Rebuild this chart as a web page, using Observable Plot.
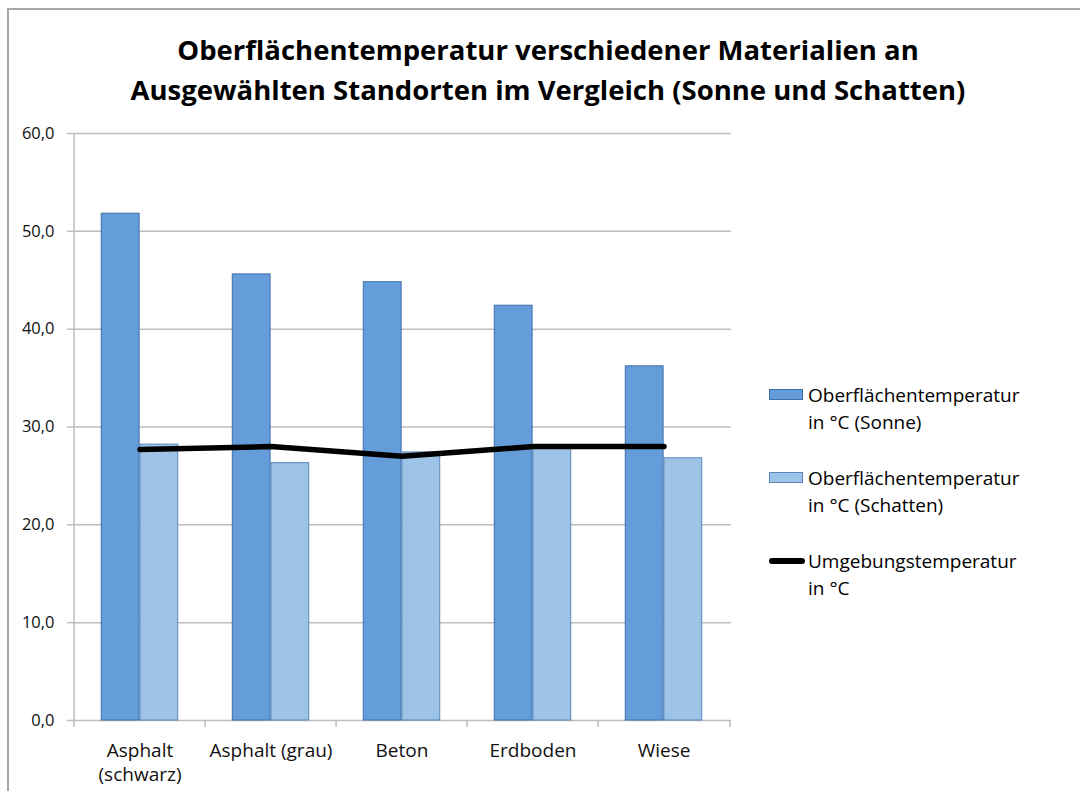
<!DOCTYPE html>
<html>
<head>
<meta charset="utf-8">
<script src="https://cdn.jsdelivr.net/npm/d3@7"></script>
<script src="https://cdn.jsdelivr.net/npm/@observablehq/plot@0.6"></script>
<style>
  body { margin: 0; background: #fff; }
  #chart { position: relative; width: 1080px; height: 791px; overflow: hidden; font-family: "Open Sans", sans-serif; color: #000; }
  #frame { position: absolute; left: 7px; top: 8px; width: 1200px; height: 900px; border-top: 2px solid #a8a8a8; border-left: 2px solid #a8a8a8; }
  #title { position: absolute; left: 0; width: 1096px; top: 30px; text-align: center; font-weight: 700; font-size: 27.5px; line-height: 40px; }
  #plot { position: absolute; left: 0; top: 0; }
  .entry { position: absolute; left: 769px; font-size: 19px; line-height: 27px; }
  .entry .sw { position: absolute; left: 0; top: 6px; width: 34px; height: 11px; box-sizing: border-box; }
  .entry .ln { position: absolute; left: 0; top: 9px; width: 36px; height: 6px; border-radius: 3px; background: #000; }
  .entry .tx { position: absolute; left: 39px; top: -1px; white-space: nowrap; }
</style>
</head>
<body>
<div id="chart">
  <div id="frame"></div>
  <div id="title">Oberflächentemperatur verschiedener Materialien an<br>Ausgewählten Standorten im Vergleich (Sonne und Schatten)</div>
  <div id="plot"></div>
  <div id="legend"></div>
</div>
<script>
// Materials measured
const categories = ["Asphalt (schwarz)", "Asphalt (grau)", "Beton", "Erdboden", "Wiese"];
// Surface temperature in the sun (°C)
const sunTemps = [51.8, 45.6, 44.8, 42.4, 36.2];
// Surface temperature in the shade (°C)
const shadeTemps = [28.2, 26.3, 27.4, 28.0, 26.8];
// Ambient air temperature (°C)
const ambientTemps = [27.7, 28.0, 27.0, 28.0, 28.0];
// Value axis ticks
const yTicks = [0, 10, 20, 30, 40, 50, 60];
// Display names on the category axis
const categoryLabels = ["Asphalt\n(schwarz)", "Asphalt (grau)", "Beton", "Erdboden", "Wiese"];

const seriesNames = [
  "Oberflächentemperatur\nin °C (Sonne)",
  "Oberflächentemperatur\nin °C (Schatten)",
  "Umgebungstemperatur\nin °C"
];
const colors = {sun: "#659ddb", sunStroke: "#3d6ea7", shade: "#9dc3e6", shadeStroke: "#5a86ba", grid: "#bdbdbd"};

const rows = categories.map((c, i) => ({category: c, sun: sunTemps[i], shade: shadeTemps[i], ambient: ambientTemps[i]}));

const W = 1080, H = 791;
const margin = {left: 72, right: 349, top: 133, bottom: 71};
const bw = (W - margin.left - margin.right) / categories.length; // band width
const plotH = H - margin.top - margin.bottom;
const outer = bw * 0.207;      // space between band edge and bar pair
const half = bw / 2;

const fmt = d => d.toFixed(1).replace(".", ",");
const labelOf = new Map(categories.map((c, i) => [c, categoryLabels[i]]));

const chart = Plot.plot({
  width: W,
  height: H,
  marginLeft: margin.left,
  marginRight: margin.right,
  marginTop: margin.top,
  marginBottom: margin.bottom,
  style: {fontFamily: "Open Sans, sans-serif", background: "transparent", overflow: "visible", color: "#111"},
  x: {type: "band", domain: categories, padding: 0},
  y: {domain: [0, 60]},
  marks: [
    // horizontal gridlines
    Plot.ruleY(yTicks, {stroke: colors.grid, strokeWidth: 1.5}),
    // vertical value axis line at the left band edge
    Plot.ruleX([categories[0]], {dx: -half, stroke: colors.grid, strokeWidth: 1.5}),
    // category separators below the baseline
    Plot.ruleX(categories, {dx: -half, insetTop: plotH, insetBottom: -7, stroke: colors.grid, strokeWidth: 1.5}),
    Plot.ruleX([categories[categories.length - 1]], {dx: half, insetTop: plotH, insetBottom: -7, stroke: colors.grid, strokeWidth: 1.5}),
    // bars: sun on the left half, shade on the right half of each band
    Plot.barY(rows, {x: "category", y: "sun", fill: colors.sun, stroke: colors.sunStroke, strokeWidth: 1, insetLeft: outer, insetRight: half}),
    Plot.barY(rows, {x: "category", y: "shade", fill: colors.shade, stroke: colors.shadeStroke, strokeWidth: 1, insetLeft: half, insetRight: outer}),
    // ambient temperature line through band centres
    Plot.lineY(rows, {x: "category", y: "ambient", stroke: "#000", strokeWidth: 5.5, strokeLinecap: "round", strokeLinejoin: "round"}),
    Plot.axisY({ticks: yTicks, tickFormat: fmt, tickSize: 5, tickPadding: 13, fontSize: 16.5, stroke: colors.grid, strokeWidth: 1.5, label: null}),
    Plot.axisX({tickSize: 0, tickPadding: 20, fontSize: 19, lineHeight: 1.24, tickFormat: d => labelOf.get(d), label: null})
  ]
});
document.getElementById("plot").appendChild(chart);

// Legend on the right
const legend = document.getElementById("legend");
const tops = [383, 466, 549];
seriesNames.forEach((name, i) => {
  const e = document.createElement("div");
  e.className = "entry";
  e.style.top = tops[i] + "px";
  let key;
  if (i < 2) {
    key = `<div class="sw" style="background:${i === 0 ? colors.sun : colors.shade};border:1px solid ${i === 0 ? colors.sunStroke : colors.shadeStroke}"></div>`;
  } else {
    key = `<div class="ln"></div>`;
  }
  e.innerHTML = key + `<div class="tx">${name.replace("\n", "<br>")}</div>`;
  legend.appendChild(e);
});
</script>
</body>
</html>
